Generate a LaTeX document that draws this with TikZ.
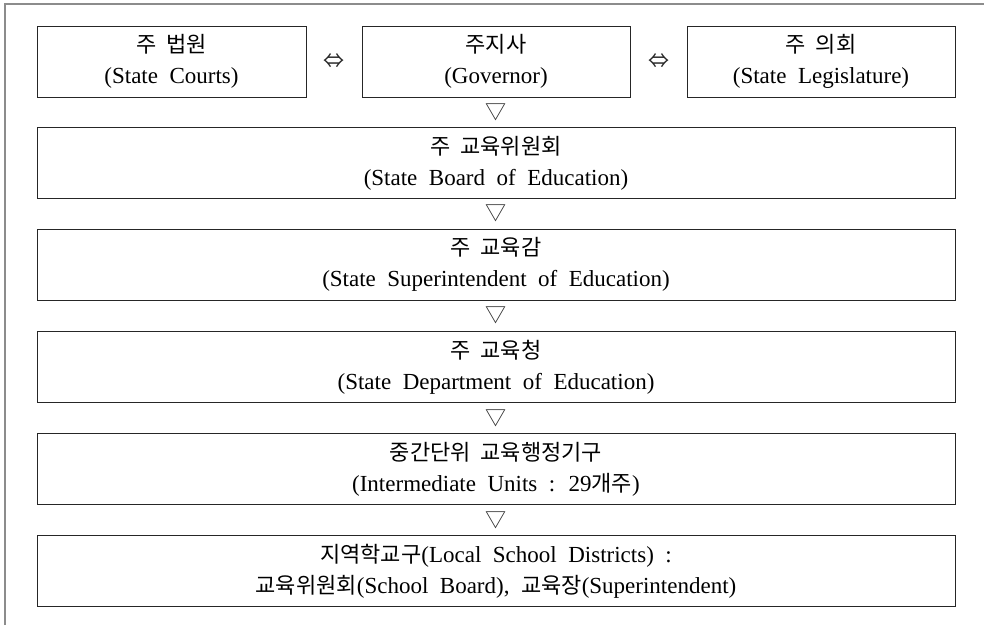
\documentclass[tikz,border=0pt]{standalone}
\usepackage{fontspec}
\setmainfont{Liberation Serif}
\newfontfamily\krfont{Noto Sans CJK KR}
\usetikzlibrary{calc}
\newcommand\kor[1]{{\krfont\fontsize{22}{31}\selectfont #1}}
\begin{document}
\begin{tikzpicture}[x=1pt,y=-1pt,
  box/.style={draw=black!85,line width=1pt,minimum width=#1,minimum height=71pt,
    inner sep=0pt,align=center,
    font={\fontsize{23}{31}\selectfont\spaceskip=0.5em\relax}},
  sym/.style={font={\krfont\fontsize{21}{21}\selectfont},inner sep=0pt,text=black!85}]
\useasboundingbox (0,0) rectangle (984,625);
\draw[black!45,line width=2pt] (4.5,625) -- (4.5,3.5) -- (984,3.5);
% top row
\node[box=269pt] (sc) at (171.5,61.5) {\kor{주\hspace{0.45em}법원}\\(State Courts)};
\node[box=268pt] (gov) at (496,61.5) {\kor{주지사}\\(Governor)};
\node[box=268pt] (leg) at (821,61.5) {\kor{주\hspace{0.45em}의회}\\(State Legislature)};
% column
\node[box=918pt] (sbe) at (496,163) {\kor{주\hspace{0.45em}교육위원회}\\(State Board of Education)};
\node[box=918pt] (sup) at (496,264.5) {\kor{주\hspace{0.45em}교육감}\\(State Superintendent of Education)};
\node[box=918pt] (sde) at (496,367) {\kor{주\hspace{0.45em}교육청}\\(State Department of Education)};
\node[box=918pt] (imu) at (496,469) {\kor{중간단위\hspace{0.45em}교육행정기구}\\(Intermediate Units : 29\kor{개주})};
\node[box=918pt] (lsd) at (496,571) {\kor{지역학교구}(Local School Districts) :\\\kor{교육위원회}(School Board), \kor{교육장}(Superintendent)};
% symbols
\node[sym] (s1) at ($(sc.east)!0.5!(gov.west)$) {⇔};
\node[sym] (s2) at ($(gov.east)!0.5!(leg.west)$) {⇔};
\node[sym] (t1) at ($(gov.south)!0.5!(sbe.north)$) {▽};
\node[sym] (t2) at ($(sbe.south)!0.5!(sup.north)$) {▽};
\node[sym] (t3) at ($(sup.south)!0.5!(sde.north)$) {▽};
\node[sym] (t4) at ($(sde.south)!0.5!(imu.north)$) {▽};
\node[sym] (t5) at ($(imu.south)!0.5!(lsd.north)$) {▽};
\end{tikzpicture}
\end{document}
